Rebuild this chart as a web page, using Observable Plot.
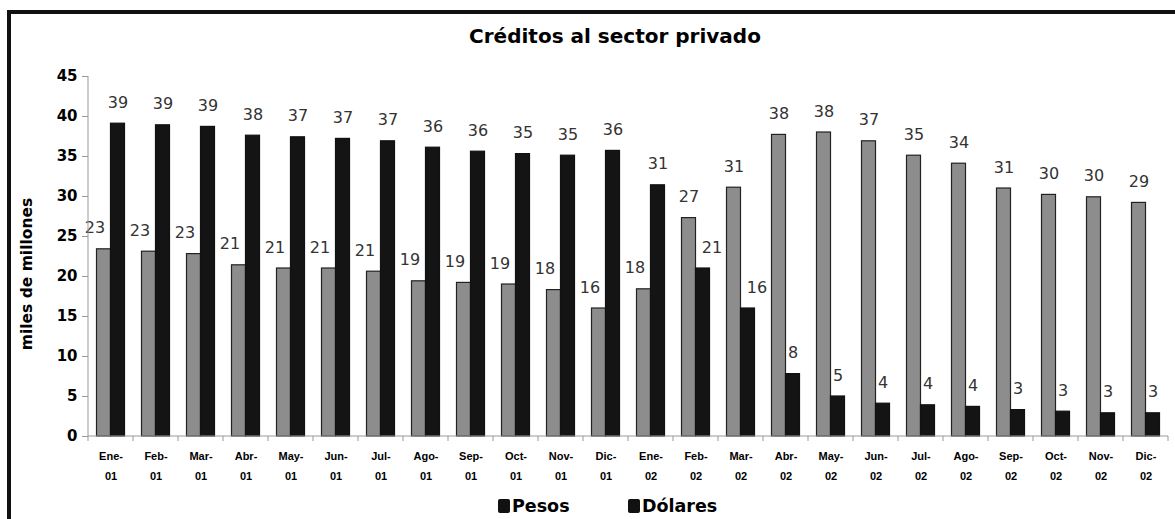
<!DOCTYPE html>
<html>
<head>
<meta charset="utf-8">
<script src="https://cdn.jsdelivr.net/npm/d3@7"></script>
<script src="https://cdn.jsdelivr.net/npm/@observablehq/plot@0.6"></script>
<style>
  body { margin: 0; background: #fff; width: 1175px; height: 519px; overflow: hidden; position: relative; font-family: "DejaVu Sans", sans-serif; color: #000; }
  #frame { position: absolute; left: 7px; top: 10px; width: 1300px; height: 600px; border-top: 4px solid #111; border-left: 4px solid #111; box-sizing: border-box; }
  #chart { position: absolute; left: 0; top: 0; }
  #title { position: absolute; left: 615px; top: 36px; transform: translate(-50%, -50%); font: bold 20px "DejaVu Sans"; white-space: nowrap; }
  #ylab { position: absolute; left: 27px; top: 274px; transform: translate(-50%, -50%) rotate(-90deg); font: bold 15.5px "DejaVu Sans"; white-space: nowrap; }
  .item { position: absolute; top: 506px; transform: translateY(-50%); display: flex; align-items: center; font: bold 17.5px "DejaVu Sans"; white-space: nowrap; }
  .sw { width: 12px; height: 14px; border-radius: 2px; background: #111; margin-right: 2px; }
</style>
</head>
<body>
<div id="frame"></div>
<div id="chart"></div>
<div id="title">Créditos al sector privado</div>
<div id="ylab">miles de millones</div>
<div id="legend"></div>
<script>
// Monthly stock of private-sector loans, in thousand millions
const months = ["Ene-01","Feb-01","Mar-01","Abr-01","May-01","Jun-01","Jul-01","Ago-01","Sep-01","Oct-01","Nov-01","Dic-01",
                "Ene-02","Feb-02","Mar-02","Abr-02","May-02","Jun-02","Jul-02","Ago-02","Sep-02","Oct-02","Nov-02","Dic-02"];
const pesos   = [23.4, 23.1, 22.8, 21.4, 21.0, 21.0, 20.6, 19.4, 19.2, 19.0, 18.3, 16.0,
                 18.4, 27.3, 31.1, 37.7, 38.0, 36.9, 35.1, 34.1, 31.0, 30.2, 29.9, 29.2];
const dolares = [39.1, 38.9, 38.7, 37.6, 37.4, 37.2, 36.9, 36.1, 35.6, 35.3, 35.1, 35.7,
                 31.4, 21.0, 16.0, 7.8, 5.0, 4.1, 3.9, 3.7, 3.3, 3.1, 2.9, 2.9];
const seriesNames = ["Pesos", "Dólares"];
const yTicks = [0, 5, 10, 15, 20, 25, 30, 35, 40, 45];

const rows = months.flatMap((m, i) => [
  {month: m, serie: seriesNames[0], value: pesos[i], other: dolares[i]},
  {month: m, serie: seriesNames[1], value: dolares[i], other: pesos[i]}
]);
const isPesos = d => d.serie === seriesNames[0];
// a two-digit label beside a taller neighbour is nudged away from it
const crowded = d => d.other > d.value && String(Math.round(d.value)).length > 1;

const W = 1175, H = 490, mL = 88, mR = 7, mT = 76, mB = 54;
const step = (W - mL - mR) / months.length;
const barW = 14;
const gap = step / 2 - barW;
const nudge = 9;

const labelStyle = {x: "month", y: "value", text: d => String(Math.round(d.value)),
  dy: -21, fontSize: 16, fill: "#333", fontFamily: "DejaVu Sans"};

const chart = Plot.plot({
  width: W, height: H,
  marginLeft: mL, marginRight: mR, marginTop: mT, marginBottom: mB,
  style: {fontFamily: "DejaVu Sans", background: "transparent", color: "#000", overflow: "visible"},
  x: {type: "band", domain: months, padding: 0},
  y: {domain: [0, 45]},
  marks: [
    Plot.barY(rows.filter(isPesos), {x: "month", y: "value", fill: "#8d8d8d", stroke: "#222", strokeWidth: 1.2,
      insetLeft: gap, insetRight: step / 2}),
    Plot.barY(rows.filter(d => !isPesos(d)), {x: "month", y: "value", fill: "#141414", stroke: "#111", strokeWidth: 1.2,
      insetLeft: step / 2, insetRight: gap}),
    Plot.text(rows.filter(d => isPesos(d) && !crowded(d)), {...labelStyle, dx: -barW / 2}),
    Plot.text(rows.filter(d => isPesos(d) && crowded(d)), {...labelStyle, dx: -barW / 2 - nudge}),
    Plot.text(rows.filter(d => !isPesos(d) && !crowded(d)), {...labelStyle, dx: barW / 2}),
    Plot.text(rows.filter(d => !isPesos(d) && crowded(d)), {...labelStyle, dx: barW / 2 + nudge}),
    Plot.axisY({ticks: yTicks, tickSize: 6, tickPadding: 5, fontSize: 15, fontWeight: "bold",
      stroke: "#999", fill: "#000", label: null}),
    Plot.axisX({tickSize: 0, tickPadding: 16, fontSize: 11, fontWeight: "bold", fontFamily: "Liberation Sans",
      tickFormat: d => d.split("-")[0] + "-", label: null, lineAnchor: "top"}),
    Plot.axisX({tickSize: 0, tickPadding: 36, fontSize: 11, fontWeight: "bold", fontFamily: "Liberation Sans",
      tickFormat: d => d.split("-")[1], label: null, lineAnchor: "top"})
  ]
});
document.getElementById("chart").appendChild(chart);

// axis lines and category boundary ticks, placed with the chart's own scales
const xs = chart.scale("x"), ys = chart.scale("y");
const [xa, xb] = xs.range;
const y0 = ys.apply(0), yTop = ys.apply(45);
const g = d3.select(chart).append("g").attr("stroke", "#999").attr("stroke-width", 1);
g.append("line").attr("x1", xa).attr("x2", xa).attr("y1", yTop).attr("y2", y0);
g.append("line").attr("x1", xa).attr("x2", xb).attr("y1", y0).attr("y2", y0);
months.map(m => xs.apply(m)).concat([xb]).forEach(x => {
  g.append("line").attr("x1", x).attr("x2", x).attr("y1", y0).attr("y2", y0 + 5);
});

// legend
const legend = document.getElementById("legend");
[[seriesNames[0], 498], [seriesNames[1], 628]].forEach(([name, left]) => {
  const item = document.createElement("div");
  item.className = "item";
  item.style.left = left + "px";
  item.innerHTML = `<span class="sw"></span><span>${name}</span>`;
  legend.appendChild(item);
});
</script>
</body>
</html>
